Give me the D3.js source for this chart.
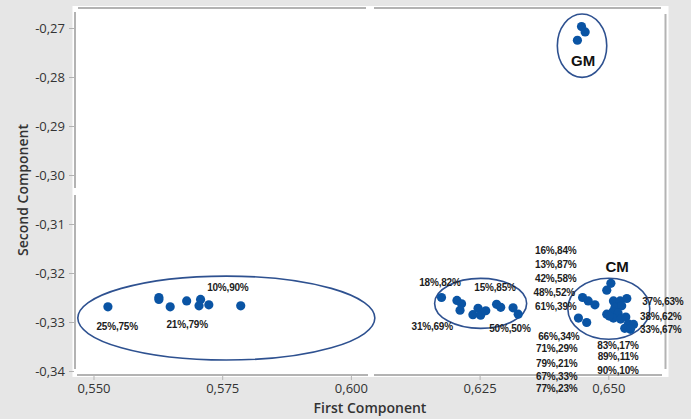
<!DOCTYPE html>
<html>
<head>
<meta charset="utf-8">
<script src="https://cdn.jsdelivr.net/npm/d3@7"></script>
<style>
  html, body { margin: 0; padding: 0; background: #e6e6e6; }
  svg { display: block; }
</style>
</head>
<body>
<svg id="chart" width="691" height="419"></svg>
<script>
// Principal component scores (First, Second) for each blend
const leftX  = [0.5528, 0.5627, 0.5627, 0.5649, 0.5681, 0.5708, 0.5705, 0.5724, 0.5786];
const leftY  = [-0.3269, -0.3250, -0.3254, -0.3269, -0.3257, -0.3254, -0.3267, -0.3265, -0.3267];

const midX   = [0.6176, 0.6206, 0.6215, 0.6212, 0.6237, 0.6247, 0.6252, 0.6262, 0.6283, 0.6291, 0.6315, 0.6325];
const midY   = [-0.3250, -0.3256, -0.3263, -0.3276, -0.3285, -0.3272, -0.3286, -0.3277, -0.3264, -0.3270, -0.3271, -0.3284];

const cmX    = [0.6505, 0.6497, 0.6450, 0.6461, 0.6474, 0.6510, 0.6523, 0.6536, 0.6513, 0.6526, 0.6497, 0.6509,
                0.6519, 0.6510, 0.6524, 0.6534, 0.6539, 0.6549, 0.6532, 0.6442, 0.6458, 0.6502, 0.6543];
const cmY    = [-0.3221, -0.3235, -0.3250, -0.3257, -0.3265, -0.3257, -0.3257, -0.3252, -0.3270, -0.3267, -0.3284, -0.3279,
                -0.3282, -0.3292, -0.3294, -0.3290, -0.3304, -0.3305, -0.3313, -0.3292, -0.3301, -0.3288, -0.3315];

const gmX    = [0.6448, 0.6455, 0.6440];
const gmY    = [-0.2697, -0.2708, -0.2725];

const xTicks = [0.550, 0.575, 0.600, 0.625, 0.650];
const yTicks = [-0.34, -0.33, -0.32, -0.31, -0.30, -0.29, -0.28, -0.27];

// Group outlines: centre and half-widths in data units
const groupNames = ["", "", "CM", "GM"];
const groupCx = [0.5758, 0.6252, 0.6501, 0.6449];
const groupCy = [-0.3292, -0.3262, -0.3273, -0.2736];
const groupRx = [0.02885, 0.00894, 0.00796, 0.0048];
const groupRy = [0.00857, 0.0051, 0.00622, 0.00647];
const groupNameX = [null, null, 0.6517, 0.6451];
const groupNameY = [null, null, -0.3188, -0.2767];

// Blend annotations
const noteText = ["10%,90%", "25%,75%", "21%,79%",
                  "18%,82%", "15%,85%", "31%,69%", "50%,50%",
                  "16%,84%", "13%,87%", "42%,58%", "48%,52%", "61%,39%",
                  "66%,34%", "71%,29%", "79%,21%", "67%,33%", "77%,23%",
                  "37%,63%", "38%,62%", "33%,67%", "83%,17%", "89%,11%", "90%,10%"];
const noteX = [0.5761, 0.5546, 0.5682,
               0.6173, 0.6280, 0.6158, 0.6309,
               0.6398, 0.6398, 0.6398, 0.6395, 0.6398,
               0.6404, 0.6400, 0.6400, 0.6400, 0.6400,
               0.6606, 0.6602, 0.6602, 0.6519, 0.6519, 0.6519];
const noteY = [-0.3229, -0.3310, -0.3306,
               -0.3220, -0.3229, -0.3310, -0.3314,
               -0.3154, -0.3182, -0.3211, -0.3240, -0.3268,
               -0.3330, -0.3355, -0.3385, -0.3411, -0.3436,
               -0.3259, -0.3288, -0.3315, -0.3347, -0.3371, -0.3398];

const svg = d3.select("#chart");

const x = d3.scaleLinear().domain([0.55, 0.65]).range([93.5, 608.3]);
const y = d3.scaleLinear().domain([-0.34, -0.27]).range([371, 28]);

const frameL = 75, frameR = 665.5, frameT = 8, frameB = 375;
const lineColor = "#b3b3b3";

// plot panel
svg.append("rect")
  .attr("x", 72.5).attr("y", 6)
  .attr("width", 596).attr("height", 371)
  .attr("fill", "#ffffff");

// frame with small breaks
const frame = svg.append("g").attr("stroke", lineColor).attr("stroke-width", 2).attr("fill", "none");
frame.append("line").attr("x1", 78).attr("x2", 366).attr("y1", frameT).attr("y2", frameT);
frame.append("line").attr("x1", 374).attr("x2", 661).attr("y1", frameT).attr("y2", frameT);
frame.append("line").attr("x1", frameL).attr("x2", frameL).attr("y1", 12).attr("y2", 188);
frame.append("line").attr("x1", frameL).attr("x2", frameL).attr("y1", 195).attr("y2", 369);
frame.append("line").attr("x1", frameR).attr("x2", frameR).attr("y1", 14).attr("y2", 369);
frame.append("line").attr("x1", 77).attr("x2", 368).attr("y1", frameB).attr("y2", frameB);
frame.append("line").attr("x1", 374).attr("x2", 662).attr("y1", frameB).attr("y2", frameB);

const fmtX = d => d3.format(".3f")(d).replace(".", ",");
const fmtY = d => d3.format(".2f")(d).replace(".", ",").replace("−", "-");

// x axis
const xAxis = svg.append("g")
  .attr("transform", `translate(0,${frameB})`)
  .call(d3.axisBottom(x).tickValues(xTicks).tickFormat(fmtX).tickSize(5).tickPadding(4));
xAxis.select(".domain").remove();

// y axis
const yAxis = svg.append("g")
  .attr("transform", `translate(${frameL - 1},0)`)
  .call(d3.axisLeft(y).tickValues(yTicks).tickFormat(fmtY).tickSize(5).tickPadding(4));
yAxis.select(".domain").remove();

[xAxis, yAxis].forEach(a => {
  a.selectAll(".tick line").attr("stroke", lineColor).attr("stroke-width", 1);
  a.selectAll(".tick text")
    .attr("font-family", "'Open Sans', sans-serif")
    .attr("font-size", 13)
    .attr("fill", "#333333");
});

// axis titles
svg.append("text")
  .attr("x", 370).attr("y", 413)
  .attr("text-anchor", "middle")
  .attr("font-family", "'Open Sans', sans-serif")
  .attr("font-size", 14).attr("font-weight", 600)
  .attr("fill", "#333333")
  .text("First Component");

svg.append("text")
  .attr("transform", "translate(28,190) rotate(-90)")
  .attr("text-anchor", "middle")
  .attr("font-family", "'Open Sans', sans-serif")
  .attr("font-size", 14).attr("font-weight", 600)
  .attr("fill", "#333333")
  .text("Second Component");

// group outlines
const groups = groupCx.map((cx, i) => ({cx, cy: groupCy[i], rx: groupRx[i], ry: groupRy[i]}));
svg.append("g").selectAll("ellipse").data(groups).join("ellipse")
  .attr("cx", d => x(d.cx))
  .attr("cy", d => y(d.cy))
  .attr("rx", d => x(d.cx + d.rx) - x(d.cx))
  .attr("ry", d => y(d.cy - d.ry) - y(d.cy))
  .attr("fill", "none")
  .attr("stroke", "#2e5190")
  .attr("stroke-width", 1.6);

// points
const pts = [];
[[leftX, leftY], [midX, midY], [cmX, cmY], [gmX, gmY]].forEach(([xs, ys]) => {
  xs.forEach((v, i) => pts.push({x: v, y: ys[i]}));
});
svg.append("g").selectAll("circle").data(pts).join("circle")
  .attr("cx", d => x(d.x))
  .attr("cy", d => y(d.y))
  .attr("r", 4.6)
  .attr("fill", "#0a54a4");

// group names
svg.append("g").selectAll("text")
  .data(groupNames.map((n, i) => ({n, x: groupNameX[i], y: groupNameY[i]})).filter(d => d.n))
  .join("text")
  .attr("x", d => x(d.x)).attr("y", d => y(d.y))
  .attr("dy", "0.35em")
  .attr("text-anchor", "middle")
  .attr("font-family", "'Liberation Sans', Arial, sans-serif")
  .attr("font-weight", "bold")
  .attr("font-size", 15)
  .attr("fill", "#111111")
  .text(d => d.n);

// blend annotations
svg.append("g").selectAll("text")
  .data(noteText.map((t, i) => ({t, x: noteX[i], y: noteY[i]})))
  .join("text")
  .attr("x", d => x(d.x)).attr("y", d => y(d.y))
  .attr("dy", "0.35em")
  .attr("text-anchor", "middle")
  .attr("font-family", "'Liberation Sans', Arial, sans-serif")
  .attr("font-weight", "bold")
  .attr("font-size", 10)
  .attr("letter-spacing", -0.2)
  .attr("fill", "#1c1c1c")
  .text(d => d.t);
</script>
</body>
</html>
